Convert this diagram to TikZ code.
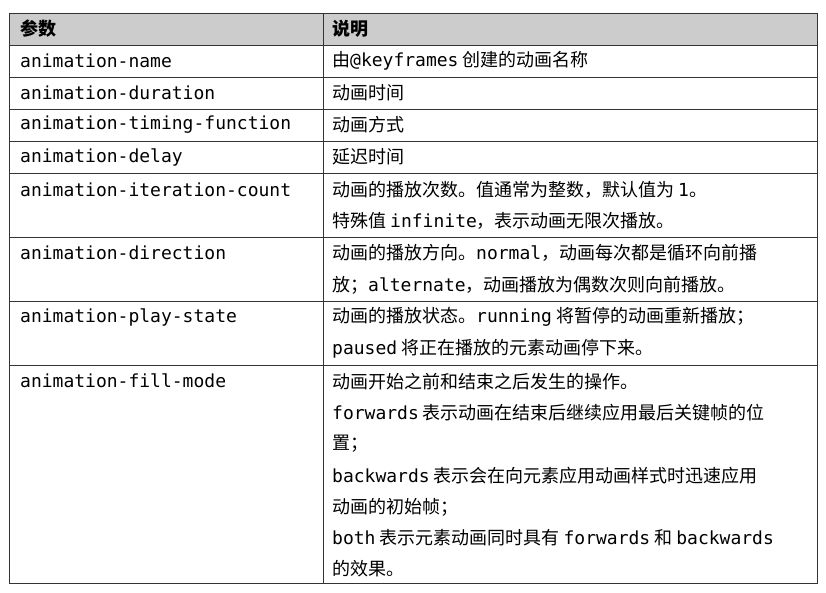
\documentclass[tikz,border=0pt]{standalone}
\usepackage{fontspec}
\setmainfont{Noto Sans CJK SC}
\setmonofont[Scale=1.0]{DejaVu Sans Mono}
\newcommand{\cd}[1]{{\ttfamily #1}}
\tikzset{
  txt/.style={anchor=west,inner sep=0pt,font=\fontsize{18}{22}\selectfont},
  par/.style={txt,font=\fontsize{18}{22}\selectfont\ttfamily},
  grid/.style={line width=0.8pt,black!80}
}
\begin{document}
\begin{tikzpicture}[x=1pt,y=-1pt]
  \useasboundingbox (0,0) rectangle (826,592);
  %Kopf
  \fill[black!20] (9,13) rectangle (817,45);
  \draw[grid] (9,13) rectangle (817,583);
  \draw[grid] (323,13) -- (323,583);
  \foreach \y in {45,77,109,141,173,237,301,365}
    \draw[grid] (9,\y) -- (817,\y);
  \node[txt,font=\fontsize{18}{22}\selectfont\bfseries] (h1) at (20,29) {参数};
  \node[txt,font=\fontsize{18}{22}\selectfont\bfseries] (h2) at (332,29) {说明};
  %Parameter
  \node[par] (p1) at (20,61) {animation-name};
  \node[par] (p2) at (20,93) {animation-duration};
  \node[par] (p3) at (20,125) {animation-timing-function};
  \node[par] (p4) at (20,157) {animation-delay};
  \node[par] (p5) at (20,190) {animation-iteration-count};
  \node[par] (p6) at (20,253) {animation-direction};
  \node[par] (p7) at (20,317) {animation-play-state};
  \node[par] (p8) at (20,381) {animation-fill-mode};
  %Beschreibung
  \node[txt] (d1) at (332,61) {由\cd{@keyframes} 创建的动画名称};
  \node[txt] (d2) at (332,93) {动画时间};
  \node[txt] (d3) at (332,125) {动画方式};
  \node[txt] (d4) at (332,157) {延迟时间};
  \node[txt] (d5a) at (332,190) {动画的播放次数。值通常为整数，默认值为 \cd{1}。};
  \node[txt] (d5b) at (332,221) {特殊值 \cd{infinite}，表示动画无限次播放。};
  \node[txt] (d6a) at (332,253) {动画的播放方向。\cd{normal}，动画每次都是循环向前播};
  \node[txt] (d6b) at (332,285) {放；\cd{alternate}，动画播放为偶数次则向前播放。};
  \node[txt] (d7a) at (332,317) {动画的播放状态。\cd{running} 将暂停的动画重新播放；};
  \node[txt] (d7b) at (332,349) {\cd{paused} 将正在播放的元素动画停下来。};
  \node[txt] (d8a) at (332,382) {动画开始之前和结束之后发生的操作。};
  \node[txt] (d8b) at (332,413) {\cd{forwards} 表示动画在结束后继续应用最后关键帧的位};
  \node[txt] (d8c) at (332,444) {置；};
  \node[txt] (d8d) at (332,476) {\cd{backwards} 表示会在向元素应用动画样式时迅速应用};
  \node[txt] (d8e) at (332,507) {动画的初始帧；};
  \node[txt] (d8f) at (332,538) {\cd{both} 表示元素动画同时具有 \cd{forwards} 和 \cd{backwards}};
  \node[txt] (d8g) at (332,569) {的效果。};
\end{tikzpicture}
\end{document}
